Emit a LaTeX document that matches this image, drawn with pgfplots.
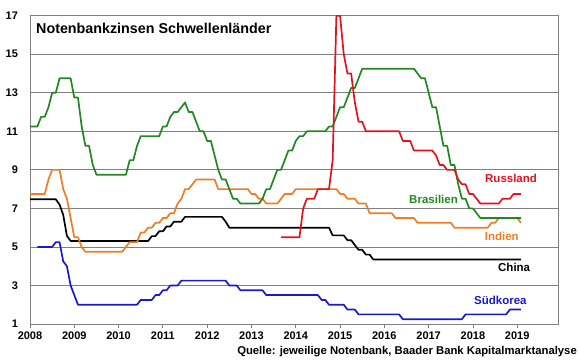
\documentclass[border=0pt]{standalone}
\usepackage{pgfplots}
\pgfplotsset{compat=1.18}
\usepackage{fontspec}
\setmainfont{Liberation Sans}
\definecolor{cgreen}{RGB}{34,136,34}
\definecolor{cred}{RGB}{225,20,30}
\definecolor{corange}{RGB}{240,125,35}
\definecolor{cblue}{RGB}{25,25,210}
\definecolor{cgrid}{RGB}{128,128,128}
\begin{document}
\begin{tikzpicture}
\path[use as bounding box] (-30pt,-35pt) rectangle (550pt,324pt);
\begin{axis}[
  scale only axis, width=528pt, height=308.3pt,
  xmin=2008, xmax=2019.92, ymin=1, ymax=17,
  xtick={2008,...,2019}, ytick={1,3,...,17},
  ymajorgrids, grid style={cgrid, line width=0.8pt},
  axis line style={cgrid, line width=0.8pt},
  xtick pos=bottom, ytick pos=left, tick align=outside,
  major tick length=3.5pt,
  xtick style={cgrid, line width=0.8pt},
  ytick style={draw=none},
  /pgf/number format/assume math mode=true,
  /pgf/number format/1000 sep={},
  ticklabel style={font=\bfseries\fontsize{11}{12}\selectfont},
  yticklabel style={xshift=-5pt},
  xticklabel style={yshift=-1pt},
  every axis plot/.append style={line width=1.7pt, no markers, line join=round},
  clip=true,
]
% China
\addplot[black] coordinates {
(2008.0,7.47)(2008.583,7.47)(2008.667,7.20)(2008.75,6.66)(2008.833,5.58)(2008.917,5.31)
(2010.667,5.31)(2010.75,5.56)(2010.833,5.56)(2010.917,5.81)(2011.0,5.81)(2011.083,6.06)
(2011.167,6.06)(2011.25,6.31)(2011.417,6.31)(2011.5,6.56)(2012.333,6.56)(2012.417,6.31)
(2012.5,6.0)(2014.75,6.0)(2014.833,5.6)(2015.083,5.6)(2015.167,5.35)(2015.25,5.35)
(2015.333,5.1)(2015.417,4.85)(2015.5,4.85)(2015.583,4.6)(2015.667,4.6)(2015.75,4.35)
(2019.083,4.35)};
% Suedkorea
\addplot[cblue] coordinates {
(2008.167,5.0)(2008.5,5.0)(2008.583,5.25)(2008.667,5.25)(2008.75,4.25)(2008.833,4.0)
(2008.917,3.0)(2009.0,2.5)(2009.083,2.0)(2010.417,2.0)(2010.5,2.25)(2010.75,2.25)
(2010.833,2.5)(2010.917,2.5)(2011.0,2.75)(2011.083,2.75)(2011.167,3.0)(2011.333,3.0)
(2011.417,3.25)(2012.417,3.25)(2012.5,3.0)(2012.667,3.0)(2012.75,2.75)(2013.25,2.75)
(2013.333,2.5)(2014.5,2.5)(2014.583,2.25)(2014.667,2.25)(2014.75,2.0)(2015.083,2.0)
(2015.167,1.75)(2015.333,1.75)(2015.417,1.5)(2016.333,1.5)(2016.417,1.25)(2017.75,1.25)
(2017.833,1.5)(2018.75,1.5)(2018.833,1.75)(2019.083,1.75)};
% Indien
\addplot[corange] coordinates {
(2008.0,7.75)(2008.333,7.75)(2008.417,8.5)(2008.5,9.0)(2008.667,9.0)(2008.75,8.0)
(2008.833,7.5)(2008.917,6.5)(2009.0,5.5)(2009.083,5.5)(2009.167,5.0)(2009.25,4.75)
(2010.083,4.75)(2010.167,5.0)(2010.25,5.25)(2010.417,5.25)(2010.5,5.75)(2010.583,5.75)
(2010.667,6.0)(2010.75,6.0)(2010.833,6.25)(2010.917,6.25)(2011.0,6.5)(2011.083,6.5)
(2011.167,6.75)(2011.25,6.75)(2011.333,7.25)(2011.417,7.5)(2011.5,8.0)(2011.583,8.0)
(2011.667,8.25)(2011.75,8.5)(2012.167,8.5)(2012.25,8.0)(2012.917,8.0)(2013.0,7.75)
(2013.083,7.75)(2013.167,7.5)(2013.25,7.5)(2013.333,7.25)(2013.583,7.25)(2013.667,7.5)
(2013.75,7.75)(2013.917,7.75)(2014.0,8.0)(2014.917,8.0)(2015.0,7.75)(2015.083,7.75)
(2015.167,7.5)(2015.333,7.5)(2015.417,7.25)(2015.583,7.25)(2015.667,6.75)(2016.167,6.75)
(2016.25,6.5)(2016.667,6.5)(2016.75,6.25)(2017.5,6.25)(2017.583,6.0)(2018.333,6.0)
(2018.417,6.25)(2018.5,6.25)(2018.583,6.5)(2019.0,6.5)(2019.083,6.25)};
% Brasilien
\addplot[cgreen] coordinates {
(2008.0,11.25)(2008.167,11.25)(2008.25,11.75)(2008.333,11.75)(2008.417,12.25)(2008.5,13.0)
(2008.583,13.0)(2008.667,13.75)(2008.917,13.75)(2009.0,12.75)(2009.083,12.75)(2009.167,11.25)
(2009.25,10.25)(2009.333,10.25)(2009.417,9.25)(2009.5,8.75)(2010.167,8.75)(2010.25,9.5)
(2010.333,9.5)(2010.417,10.25)(2010.5,10.75)(2010.917,10.75)(2011.0,11.25)(2011.083,11.25)
(2011.167,11.75)(2011.25,12.0)(2011.333,12.0)(2011.417,12.25)(2011.5,12.5)(2011.583,12.0)
(2011.667,12.0)(2011.75,11.5)(2011.833,11.0)(2011.917,11.0)(2012.0,10.5)(2012.083,10.5)
(2012.167,9.75)(2012.25,9.0)(2012.333,8.5)(2012.417,8.5)(2012.5,8.0)(2012.583,7.5)
(2012.667,7.5)(2012.75,7.25)(2013.167,7.25)(2013.25,7.5)(2013.333,8.0)(2013.417,8.0)
(2013.5,8.5)(2013.583,9.0)(2013.667,9.0)(2013.75,9.5)(2013.833,10.0)(2013.917,10.0)
(2014.0,10.5)(2014.083,10.75)(2014.167,10.75)(2014.25,11.0)(2014.667,11.0)(2014.75,11.25)
(2014.833,11.25)(2014.917,11.75)(2015.0,12.25)(2015.083,12.25)(2015.167,12.75)(2015.25,13.25)
(2015.333,13.25)(2015.417,13.75)(2015.5,14.25)(2016.667,14.25)(2016.75,14.0)(2016.833,13.75)
(2016.917,13.75)(2017.0,13.0)(2017.083,12.25)(2017.167,12.25)(2017.25,11.25)(2017.333,10.25)
(2017.417,10.25)(2017.5,9.25)(2017.583,9.25)(2017.667,8.25)(2017.75,7.5)(2017.833,7.5)
(2017.917,7.0)(2018.0,7.0)(2018.083,6.75)(2018.167,6.5)(2019.083,6.5)};
% Russland
\addplot[cred] coordinates {
(2013.667,5.5)(2014.083,5.5)(2014.167,7.0)(2014.25,7.5)(2014.417,7.5)(2014.5,8.0)
(2014.75,8.0)(2014.833,9.5)(2014.917,17.0)(2015.0,17.0)(2015.083,15.0)(2015.167,14.0)
(2015.25,14.0)(2015.333,12.5)(2015.417,11.5)(2015.5,11.5)(2015.583,11.0)(2016.333,11.0)
(2016.417,10.5)(2016.583,10.5)(2016.667,10.0)(2017.083,10.0)(2017.167,9.75)(2017.25,9.25)
(2017.333,9.25)(2017.417,9.0)(2017.583,9.0)(2017.667,8.5)(2017.75,8.25)(2017.833,8.25)
(2017.917,7.75)(2018.0,7.75)(2018.083,7.5)(2018.167,7.25)(2018.583,7.25)(2018.667,7.5)
(2018.833,7.5)(2018.917,7.75)(2019.083,7.75)};
\begin{scope}[every node/.style={font=\bfseries\fontsize{11.5}{13}\selectfont, inner sep=0pt}]
\node[text=cred] at (axis cs:2018.86,8.56) {Russland};
\node[text=cgreen] at (axis cs:2017.11,7.47) {Brasilien};
\node[text=corange] at (axis cs:2018.65,5.53) {Indien};
\node[text=black] at (axis cs:2018.93,3.94) {China};
\node[text=cblue] at (axis cs:2018.62,2.25) {Südkorea};
\end{scope}
\node[anchor=west, inner sep=0pt, font=\bfseries\fontsize{14.3}{16}\selectfont] at (rel axis cs:0,1) [xshift=6pt, yshift=-12.5pt] {Notenbankzinsen Schwellenländer};
\end{axis}
\node[anchor=east, inner sep=0pt, font=\bfseries\fontsize{11.3}{12}\selectfont] at (547pt,-28pt) {Quelle: jeweilige Notenbank, Baader Bank Kapitalmarktanalyse};
\end{tikzpicture}
\end{document}
